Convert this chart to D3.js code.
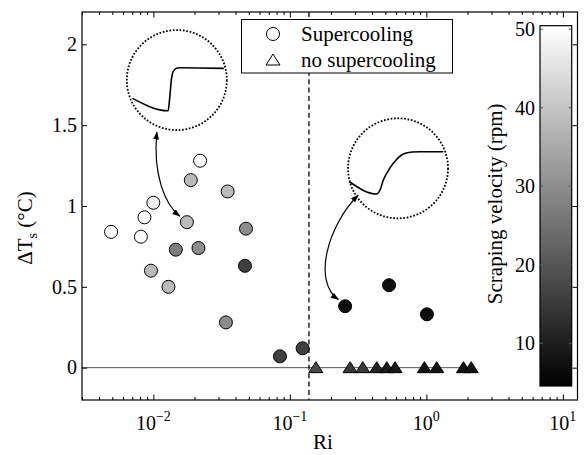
<!DOCTYPE html>
<html>
<head>
<meta charset="utf-8">
<script src="https://cdn.jsdelivr.net/npm/d3@7"></script>
<style>
  body { margin: 0; background: #fff; }
</style>
</head>
<body>
<script>
// Set up SVG dimensions
const width = 586, height = 455;
const plot = { left: 82, right: 577.5, top: 12, bottom: 400 };
const serif = "Liberation Serif, Tinos, Times New Roman, Times, Nimbus Roman, Noto Serif, DejaVu Serif, FreeSerif, serif";

// Supercooling runs (circles)
const riSC  = [0.0220, 0.0188, 0.0350, 0.0100, 0.0086, 0.0049, 0.0081, 0.0176, 0.0477, 0.0146,
               0.0214, 0.0469, 0.0096, 0.0129, 0.0340, 0.0846, 0.124, 0.254, 0.533, 1.01];
const dtSC  = [1.28, 1.16, 1.09, 1.02, 0.93, 0.84, 0.81, 0.90, 0.86, 0.73,
               0.74, 0.63, 0.60, 0.50, 0.28, 0.07, 0.12, 0.38, 0.51, 0.33];
const rpmSC = [50, 38, 38, 48, 50, 50, 50, 38, 30, 27,
               30, 16, 38, 38, 30, 16, 16, 7, 7, 7];

// Runs without supercooling (triangles)
const riNS  = [0.155, 0.276, 0.342, 0.433, 0.513, 0.590, 0.967, 1.19, 1.87, 2.13];
const dtNS  = [0, 0, 0, 0, 0, 0, 0, 0, 0, 0];
const rpmNS = [18, 15, 15, 11, 9, 9, 8, 8, 8, 8];

// Critical Richardson number (dashed line)
const riCrit = 0.138;

// Axis ticks
const xMajor = [0.01, 0.1, 1, 10];
const xMinor = [0.003, 0.004, 0.005, 0.006, 0.007, 0.008, 0.009,
                0.02, 0.03, 0.04, 0.05, 0.06, 0.07, 0.08, 0.09,
                0.2, 0.3, 0.4, 0.5, 0.6, 0.7, 0.8, 0.9,
                2, 3, 4, 5, 6, 7, 8, 9];
const xExp = ["\u22122", "\u22121", "0", "1"];
const yTicks = [0, 0.5, 1, 1.5, 2];
const cbTicks = [10, 20, 30, 40, 50];

// Sketch insets (normalised to the inset circle, y up)
const insetRi = [0.01485, 0.62];
const insetDT = [1.779, 1.233];
const insetA_x = [-0.886, -0.174, -0.14, -0.106, -0.074, -0.006, 0.06, 0.94];
const insetA_y = [-0.366, -0.614, -0.334, 0.034, 0.166, 0.234, 0.246, 0.234];
const insetB_x = [-0.974, -0.426, -0.36, -0.294, -0.2, -0.094, 0.106, 0.28, 0.44, 0.906];
const insetB_y = [-0.268, -0.514, -0.434, -0.234, -0.054, 0.1, 0.286, 0.326, 0.332, 0.332];
const insetR = 50;

// Scales
const x = d3.scaleLog().domain([0.003, 12.8]).range([plot.left, plot.right]);
const y = d3.scaleLinear().domain([-0.2, 2.2]).range([plot.bottom, plot.top]);
const color = d3.scaleLinear().domain([4.55, 50.45]).range(["#000", "#fff"]);

const svg = d3.select("body").append("svg")
    .attr("width", width).attr("height", height);

const defs = svg.append("defs");
defs.append("marker")
    .attr("id", "head")
    .attr("viewBox", "0 0 8 6")
    .attr("refX", 7.5).attr("refY", 3)
    .attr("markerWidth", 8).attr("markerHeight", 6)
    .attr("markerUnits", "userSpaceOnUse")
    .attr("orient", "auto-start-reverse")
    .append("path").attr("d", "M0,0L8,3L0,6Z").attr("fill", "#000");

// Zero line and critical Ri
svg.append("line")
    .attr("x1", x(x.domain()[0])).attr("x2", x(d3.max(riNS)))
    .attr("y1", y(0)).attr("y2", y(0))
    .attr("stroke", "#555").attr("stroke-width", 1);

svg.append("line")
    .attr("x1", x(riCrit)).attr("x2", x(riCrit))
    .attr("y1", y(2.2)).attr("y2", y(-0.2))
    .attr("stroke", "#000").attr("stroke-width", 1.3)
    .attr("stroke-dasharray", "5,3.4");

// Insets
const insets = [[insetA_x, insetA_y], [insetB_x, insetB_y]];
insets.forEach(([ix, iy], k) => {
    const cx = x(insetRi[k]), cy = y(insetDT[k]);
    const sx = d3.scaleLinear().domain([-1, 1]).range([cx - insetR, cx + insetR]);
    const sy = d3.scaleLinear().domain([-1, 1]).range([cy + insetR, cy - insetR]);
    svg.append("circle")
        .attr("cx", cx).attr("cy", cy).attr("r", insetR)
        .attr("fill", "none").attr("stroke", "#000")
        .attr("stroke-width", 1.8).attr("stroke-dasharray", "1.7,1.7");
    const pts = ix.map((v, i) => [sx(v), sy(iy[i])]);
    svg.append("path")
        .attr("d", d3.line().curve(d3.curveMonotoneX)(pts))
        .attr("fill", "none").attr("stroke", "#000").attr("stroke-width", 1.6);
});

// Curved double-headed arrows: inset edge -> data point
const arrows = [
    { inset: 0, pt: 7,  s: [-20, 52],    e: [-7, -6],    c1: [-4, 43],  c2: [-15, -11.7] },
    { inset: 1, pt: 17, s: [-39.7, 26.7], e: [-6.7, -6.7], c1: [-30.3, 30], c2: [-26.3, -18] }
];
arrows.forEach(a => {
    const sx = x(insetRi[a.inset]) + a.s[0], sy = y(insetDT[a.inset]) + a.s[1];
    const ex = x(riSC[a.pt]) + a.e[0], ey = y(dtSC[a.pt]) + a.e[1];
    const p = d3.path();
    p.moveTo(sx, sy);
    p.bezierCurveTo(sx + a.c1[0], sy + a.c1[1], ex + a.c2[0], ey + a.c2[1], ex, ey);
    svg.append("path")
        .attr("d", p.toString())
        .attr("fill", "none").attr("stroke", "#000").attr("stroke-width", 1.2)
        .attr("marker-start", "url(#head)").attr("marker-end", "url(#head)");
});

// Data points
svg.selectAll(".sc").data(riSC).enter().append("circle")
    .attr("cx", d => x(d))
    .attr("cy", (d, i) => y(dtSC[i]))
    .attr("r", 6.5)
    .attr("fill", (d, i) => color(rpmSC[i]))
    .attr("stroke", "#000").attr("stroke-width", 1);

const tri = "M0,-6L7,5L-7,5Z";
svg.selectAll(".ns").data(riNS).enter().append("path")
    .attr("d", tri)
    .attr("transform", (d, i) => `translate(${x(d)},${y(dtNS[i])})`)
    .attr("fill", (d, i) => color(rpmNS[i]))
    .attr("stroke", "#000").attr("stroke-width", 1);

// Axes (inward ticks on all four sides)
const noLabel = () => "";
const addAxis = (gen, tr) => {
    const g = svg.append("g").attr("transform", tr).call(gen);
    g.select(".domain").remove();
    g.selectAll("line").attr("stroke", "#000");
};
addAxis(d3.axisBottom(x).tickValues(xMajor).tickSize(-5.5).tickFormat(noLabel), `translate(0,${plot.bottom})`);
addAxis(d3.axisBottom(x).tickValues(xMinor).tickSize(-3).tickFormat(noLabel), `translate(0,${plot.bottom})`);
addAxis(d3.axisTop(x).tickValues(xMajor).tickSize(-5.5).tickFormat(noLabel), `translate(0,${plot.top})`);
addAxis(d3.axisTop(x).tickValues(xMinor).tickSize(-3).tickFormat(noLabel), `translate(0,${plot.top})`);
addAxis(d3.axisLeft(y).tickValues(yTicks).tickSize(-5).tickFormat(noLabel), `translate(${plot.left},0)`);
addAxis(d3.axisRight(y).tickValues(yTicks).tickSize(-5).tickFormat(noLabel), `translate(${plot.right},0)`);

svg.append("rect")
    .attr("x", plot.left).attr("y", plot.top)
    .attr("width", plot.right - plot.left).attr("height", plot.bottom - plot.top)
    .attr("fill", "none").attr("stroke", "#000").attr("stroke-width", 1.2);

// All text below goes into one group carrying the serif font
const txt = svg.append("g").style("font-family", serif);

// Tick labels
xMajor.forEach((v, i) => {
    const t = txt.append("text")
        .attr("x", x(v)).attr("y", 430)
        .attr("text-anchor", "middle").attr("font-size", 20);
    t.append("tspan").text("10");
    t.append("tspan").attr("dy", -9).attr("font-size", 14).text(xExp[i]);
});
txt.selectAll(".ylab").data(yTicks).enter().append("text")
    .attr("x", plot.left - 5).attr("y", d => y(d))
    .attr("dy", "0.34em").attr("text-anchor", "end").attr("font-size", 20)
    .text(d => d);

// Axis labels
txt.append("text").attr("x", 323).attr("y", 449)
    .attr("text-anchor", "middle").attr("font-size", 21).text("Ri");

const yl = txt.append("text")
    .attr("transform", "translate(32,228) rotate(-90)")
    .attr("text-anchor", "middle").attr("font-size", 21);
yl.append("tspan").text("\u0394T");
yl.append("tspan").attr("dy", 5).attr("font-size", 14).text("s");
yl.append("tspan").attr("dy", -5).text(" (\u00b0C)");

// Colorbar
const cb = { left: 540, right: 571.7, top: 25.7, bottom: 386 };
const cy = d3.scaleLinear().domain(color.domain()).range([cb.bottom, cb.top]);
const grad = defs.append("linearGradient").attr("id", "cbgrad")
    .attr("x1", 0).attr("y1", 1).attr("x2", 0).attr("y2", 0);
grad.append("stop").attr("offset", "0%").attr("stop-color", color(color.domain()[0]));
grad.append("stop").attr("offset", "100%").attr("stop-color", color(color.domain()[1]));

svg.append("rect")
    .attr("x", cb.left).attr("y", cb.top)
    .attr("width", cb.right - cb.left).attr("height", cb.bottom - cb.top)
    .attr("fill", "url(#cbgrad)").attr("stroke", "#000").attr("stroke-width", 1.2);

svg.selectAll(".cbl").data(cbTicks).enter().append("line")
    .attr("x1", cb.left).attr("x2", cb.left + 3)
    .attr("y1", d => cy(d)).attr("y2", d => cy(d)).attr("stroke", "#555");
svg.selectAll(".cbr").data(cbTicks).enter().append("line")
    .attr("x1", cb.right - 3).attr("x2", cb.right)
    .attr("y1", d => cy(d)).attr("y2", d => cy(d)).attr("stroke", "#555");
txt.selectAll(".cbt").data(cbTicks).enter().append("text")
    .attr("x", cb.left - 5).attr("y", d => cy(d))
    .attr("dy", "0.34em").attr("text-anchor", "end").attr("font-size", 20)
    .text(d => d);

txt.append("text")
    .attr("transform", `translate(502,${(cb.top + cb.bottom) / 2 - 2}) rotate(-90)`)
    .attr("text-anchor", "middle").attr("font-size", 21)
    .text("Scraping velocity (rpm)");

// Legend
const leg = svg.append("g");
leg.append("rect")
    .attr("x", 241.5).attr("y", 19.5).attr("width", 211).attr("height", 53.5)
    .attr("fill", "#fff").attr("stroke", "#000").attr("stroke-width", 1);
leg.append("circle").attr("cx", 273).attr("cy", 34).attr("r", 6.5)
    .attr("fill", "#fff").attr("stroke", "#000");
leg.append("path").attr("d", tri).attr("transform", "translate(273,60)")
    .attr("fill", "#fff").attr("stroke", "#000");
leg.append("text").style("font-family", serif)
    .attr("x", 301).attr("y", 41).attr("font-size", 21).text("Supercooling");
leg.append("text").style("font-family", serif)
    .attr("x", 301).attr("y", 67).attr("font-size", 21).text("no supercooling");
</script>
</body>
</html>
